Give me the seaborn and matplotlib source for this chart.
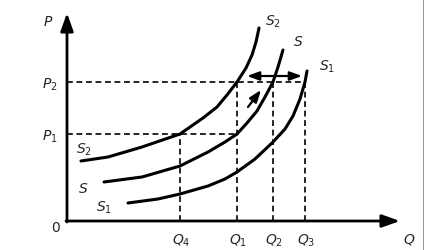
import matplotlib
matplotlib.use("Agg")
import matplotlib.pyplot as plt
from matplotlib.lines import Line2D
import seaborn as sns
import pandas as pd

sns.set_theme(style="white")
plt.rcParams['font.family'] = ['DejaVu Sans']
plt.rcParams['mathtext.fontset'] = 'dejavusans'

# Quantity / price levels (chart units: origin at the axes corner)
q_labels = ["$Q_4$", "$Q_1$", "$Q_2$", "$Q_3$"]
q_values = [113, 170, 206, 238]
p_labels = ["$P_1$", "$P_2$"]
p_values = [87, 139]

# Supply curves (Q, P)
s2_q = [14, 41, 75, 113, 136, 150, 160, 170, 179, 185, 189, 192]
s2_p = [60, 64, 74, 87, 103, 114, 126, 139, 153, 166, 179, 193]
s_q = [37, 75, 113, 141, 158, 170, 180, 190, 198, 206, 211, 216]
s_p = [39, 44, 55, 69, 79, 87, 98, 110, 124, 139, 154, 171]
s1_q = [61, 91, 113, 141, 158, 170, 188, 206, 218, 226, 233, 238, 240]
s1_p = [18, 22, 27, 35, 42, 49, 62, 79, 92, 105, 122, 139, 150]

fig = plt.figure(figsize=(4.24, 2.51), dpi=100)
ax = fig.add_axes([0, 0, 1, 1])
ax.set_xlim(-67, 357)
ax.set_ylim(-29, 222)
ax.axis("off")

curves = pd.concat([
    pd.DataFrame({"Q": s2_q, "P": s2_p, "curve": "S2"}),
    pd.DataFrame({"Q": s_q, "P": s_p, "curve": "S"}),
    pd.DataFrame({"Q": s1_q, "P": s1_p, "curve": "S1"}),
])
sns.lineplot(data=curves, x="Q", y="P", units="curve", estimator=None,
             sort=False, color="black", lw=2.2, ax=ax, legend=False)
for line in ax.lines:
    line.set_solid_joinstyle("round")
    line.set_solid_capstyle("round")

# dashed guides
dash = dict(color="black", lw=1.2, ls=(0, (3.5, 2.2)))
ax.plot([0, q_values[3]], [p_values[1]] * 2, **dash)
ax.plot([0, q_values[1]], [p_values[0]] * 2, **dash)
ax.plot([q_values[0]] * 2, [0, p_values[0]], **dash)
for q in q_values[1:]:
    ax.plot([q, q], [0, p_values[1]], **dash)

# axes with arrows
ax.annotate("", xy=(333, 0), xytext=(-1, 0),
            arrowprops=dict(arrowstyle="-|>,head_length=0.9,head_width=0.32",
                            color="black", lw=2, shrinkA=0, shrinkB=0))
ax.annotate("", xy=(0, 208), xytext=(0, -1),
            arrowprops=dict(arrowstyle="-|>,head_length=0.9,head_width=0.32",
                            color="black", lw=2, shrinkA=0, shrinkB=0))

# shift arrows
ax.annotate("", xy=(180, 145), xytext=(235, 145),
            arrowprops=dict(arrowstyle="<|-|>,head_length=0.6,head_width=0.22",
                            color="black", lw=1.6, shrinkA=0, shrinkB=0))
ax.annotate("", xy=(194, 131), xytext=(181, 114),
            arrowprops=dict(arrowstyle="-|>,head_length=0.6,head_width=0.22",
                            color="black", lw=1.6, shrinkA=0, shrinkB=0))

fs = 10
ax.text(-19, 200, "$P$", fontsize=fs, ha="center", va="center")
ax.text(-12, -6, "0", fontsize=fs, ha="center", va="center")
ax.text(342, -18, "$Q$", fontsize=fs, ha="center", va="center")
for lab, p in zip(p_labels, p_values):
    ax.text(-17, p - 2, lab, fontsize=fs, ha="center", va="center")
for lab, q in zip(q_labels, q_values):
    ax.text(q + 1, -19, lab, fontsize=fs, ha="center", va="center")

ax.text(206, 200, "$S_2$", fontsize=fs, ha="center", va="center")
ax.text(231, 180, "$S$", fontsize=fs, ha="center", va="center")
ax.text(260, 155, "$S_1$", fontsize=fs, ha="center", va="center")
ax.text(17, 72, "$S_2$", fontsize=fs, ha="center", va="center")
ax.text(16, 33, "$S$", fontsize=fs, ha="center", va="center")
ax.text(37, 14, "$S_1$", fontsize=fs, ha="center", va="center")

# thin image border on the right edge
fig.add_artist(Line2D([0.9985, 0.9985], [0, 1], transform=fig.transFigure,
                      color="#999999", lw=0.8))

fig.savefig("out.png", dpi=100)
